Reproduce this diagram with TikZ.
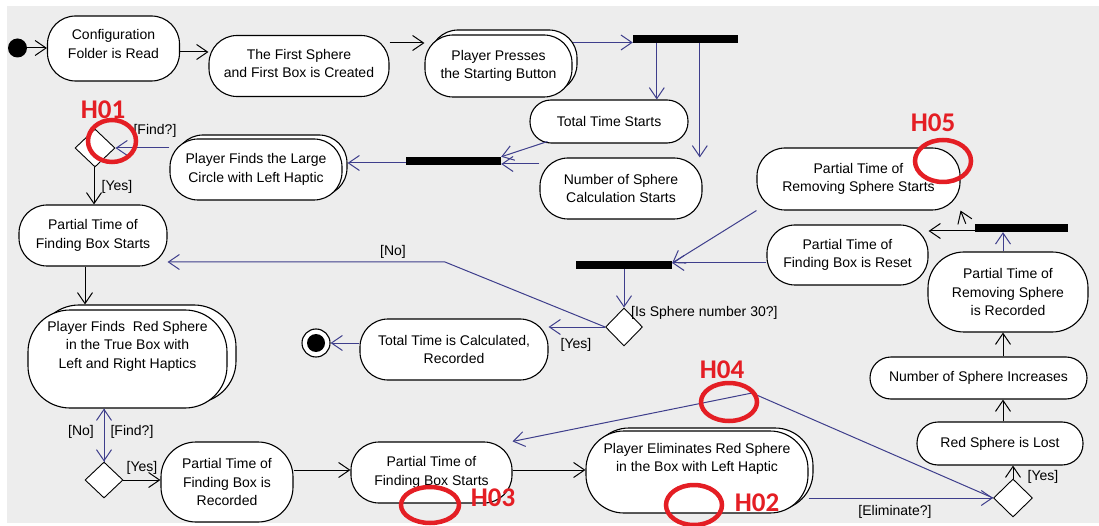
\documentclass[tikz,border=0pt]{standalone}
\usepackage{fontspec}
\setmainfont{Liberation Sans}
\newfontfamily\hfont{Carlito}
\usetikzlibrary{arrows.meta,shapes.geometric,shadows,calc}
\definecolor{navy}{RGB}{62,62,140}
\definecolor{canvasgray}{RGB}{237,237,237}
\definecolor{markred}{RGB}{228,30,36}

\begin{document}
\begin{tikzpicture}[x=1pt,y=-1pt,
  font=\fontsize{14}{18.5}\selectfont,
  act/.style={draw=black, line width=1.1pt, fill=white, align=center, inner sep=2pt},
  multi/.style n args={2}{act, copy shadow={shadow xshift=#1pt, shadow yshift=#2pt}},
  bar/.style={fill=black, draw=none, inner sep=0pt, rectangle},
  dec/.style={diamond, draw=black, fill=white, line width=0.9pt, inner sep=0pt},
  txt/.style={align=center, inner sep=0pt},
  lbl/.style={inner sep=1pt},
  arr/.style={line width=1pt, -{Straight Barb[length=11pt,width=15pt]}},
  flow/.style={arr, black},
  link/.style={arr, navy},
  hring/.style={draw=markred, line width=4.5pt},
  htext/.style={text=markred, inner sep=0pt, font=\hfont\bfseries\fontsize{27}{27}\selectfont}]

% canvas
\useasboundingbox (0,0) rectangle (1099,526);
\fill[white] (0,0) rectangle (1099,526);
\fill[canvasgray] (7,6) rectangle (1099,523);

% ---------- activity nodes ----------
\node[circle, fill=black, minimum size=19, inner sep=0pt] (init) at (17.5,48) {};
\node[act, minimum width=132, minimum height=65, rounded corners=28] (cfg) at (113.5,48.5) {};
\node[txt] (cfgtxt) at (113.5,44) {Configuration\\Folder is Read};
\node[act, minimum width=180, minimum height=61, rounded corners=28] (first) at (299,66) {};
\node[txt] (firsttxt) at (299,63.5) {The First Sphere\\and First Box is Created};
\node[multi={5}{5}, minimum width=147, minimum height=62, rounded corners=28] (press) at (498.5,66) {Player Presses\\the Starting Button};
\node[bar, minimum width=105, minimum height=8] (fork1) at (685.5,39) {};
\node[act, minimum width=158, minimum height=43, rounded corners=21] (total) at (609,121.5) {Total Time Starts};
\node[act, minimum width=162, minimum height=61, rounded corners=28] (numcalc) at (621,188.5) {Number of Sphere\\Calculation Starts};
\node[bar, minimum width=95, minimum height=8] (join1) at (453.5,161) {};
\node[multi={5}{4}, minimum width=172, minimum height=61, rounded corners=28] (large) at (256,169.5) {Player Finds the Large\\Circle with Left Haptic};
\node[dec, minimum width=40, minimum height=38] (d1) at (95,148) {};
\node[act, minimum width=148, minimum height=61, rounded corners=28] (ptfb1) at (93,235.5) {Partial Time of\\Finding Box Starts};
\node[multi={9}{5}, minimum width=199, minimum height=98, rounded corners=42] (redfind) at (127.5,359) {};
\node[txt] (redfindtxt) at (127.5,346) {Player Finds~ Red Sphere\\in the True Box with\\Left and Right Haptics};
\node[dec, minimum width=38, minimum height=36] (d2) at (104,480) {};
\node[act, minimum width=132, minimum height=80, rounded corners=35] (ptfbrec) at (227,482) {Partial Time of\\Finding Box is\\Recorded};
\node[act, minimum width=161, minimum height=61, rounded corners=28] (ptfb2) at (431.5,472.5) {Partial Time of\\Finding Box Starts};
\node[multi={5}{3}, minimum width=222, minimum height=82, rounded corners=38] (elim) at (697,472) {};
\node[txt] (elimtxt) at (697,459) {Player Eliminates Red Sphere\\in the Box with Left Haptic};
\node[dec, minimum width=39, minimum height=38] (d4) at (1013,498) {};
\node[act, minimum width=166, minimum height=43, rounded corners=21] (lost) at (1000,443.5) {Red Sphere is Lost};
\node[act, minimum width=217, minimum height=42, rounded corners=21] (numinc) at (978.5,378) {Number of Sphere Increases};
\node[act, minimum width=160, minimum height=80, rounded corners=36] (remrec) at (1008,292) {Partial Time of\\Removing Sphere\\is Recorded};
\node[bar, minimum width=93, minimum height=8] (join3) at (1021.5,228) {};
\node[act, minimum width=203, minimum height=62, rounded corners=28] (remstart) at (858.5,179) {Partial Time of\\Removing Sphere Starts};
\node[act, minimum width=161, minimum height=60, rounded corners=28] (reset) at (847.5,255) {Partial Time of\\Finding Box is Reset};
\node[bar, minimum width=96, minimum height=8] (join2) at (624,265) {};
\node[dec, minimum width=37, minimum height=38] (d3) at (624,327) {};
\node[act, minimum width=188, minimum height=61, rounded corners=28] (totcalc) at (454,349.5) {Total Time is Calculated,\\Recorded};
\node[circle, draw=black, fill=white, line width=1.1pt, minimum size=28, inner sep=0pt] (final) at (316,343) {};
\fill[black] (final.center) circle [radius=9];

% ---------- connectors ----------
\draw[flow] (init.east) -- (cfg.west |- init.east);
\draw[flow] ([yshift=-3.5pt]cfg.east) coordinate (c) -- (c -| first.west);
\draw[flow] ([yshift=23pt]first.east) coordinate (c) -- (c -| press.west);
\draw[link] ([yshift=23.5pt]press.east) coordinate (c) -- (c -| fork1.west);
\draw[link] ([xshift=24pt]fork1.south west) coordinate (c) -- (c |- total.north);
\draw[link] ([xshift=67pt]fork1.south west) coordinate (c) -- (c |- numcalc.north);
\draw[link] ([shift={(18pt,2pt)}]total.south west) -- (join1.north east);
\draw[link] ([yshift=24.5pt]numcalc.west) coordinate (c) -- (c -| join1.east);
\draw[link] ([yshift=-2pt]join1.west) coordinate (c) -- ($(c -| large.east)+(5,0)$);
\draw[link] (large.west |- d1) -- (d1.east);
\draw[flow] ([xshift=-1pt]d1.south) coordinate (c) -- (c |- ptfb1.north);
\draw[flow] ([xshift=-8pt]ptfb1.south) coordinate (c) -- ($(c |- redfind.north)+(0,-5)$);
\draw[link] (d2.north |- redfind.south) -- (d2.north);
\draw[link] (d2.north) -- (d2.north |- redfind.south);
\draw[flow] (d2.east) -- (d2.east -| ptfbrec.west);
\draw[flow] ([yshift=12pt]ptfbrec.east) coordinate (c) -- (c -| ptfb2.west);
\draw[flow] ([yshift=2.5pt]ptfb2.east) coordinate (c) -- (c -| elim.west);
\draw[link] ([yshift=-26pt]elim.east) coordinate (c) -- (d4.west);
\draw[flow] (d4.north) -- (d4.north |- lost.south);
\draw[flow] ([xshift=3pt]lost.north) coordinate (c) -- (c |- numinc.south);
\draw[flow] ([xshift=24.5pt]numinc.north) coordinate (c) -- (c |- remrec.south);
\draw[link] ([xshift=-5pt]remrec.north) coordinate (c) -- (c |- join3.south);
\draw[flow] ([yshift=-3pt]join3.west) coordinate (c) -- (c -| reset.east);
\draw[flow] ([xshift=-9pt]join3.north west) -- (remstart.south east);
\coordinate (j2in) at ([yshift=2pt]join2.east);
\draw[link] (remstart.south west) -- (j2in);
\draw[link] (reset.west |- j2in) -- (j2in);
\draw[link] (join2.south) -- (d3.north);
\coordinate (nobend) at (445,262);
\draw[link] (d3.west) -- (nobend) -- (nobend -| ptfb1.east);
\draw[link] (d3.west) -- (d3.west -| totcalc.east);
\draw[link] (totcalc.west |- final) -- (final.east);
\coordinate (elimbend) at (752,393);
\draw[link] (d4.west) -- (elimbend) -- (ptfb2.north east);

% ---------- guard labels ----------
\node[lbl] (gfind1) at (155,131) {[Find?]};
\node[lbl] (gyes1) at (117,187) {[Yes]};
\node[lbl] (gno2) at (81,432) {[No]};
\node[lbl] (gfind2) at (132,432) {[Find?]};
\node[lbl] (gyes2) at (142,468) {[Yes]};
\node[lbl] (gno3) at (393,252) {[No]};
\node[lbl] (gyes3) at (576,345) {[Yes]};
\node[lbl, anchor=west] (gsphere) at (630,313) {[Is Sphere number 30?]};
\node[lbl] (gelim) at (895,512) {[Eliminate?]};
\node[lbl] (gyes4) at (1043,477) {[Yes]};

% ---------- highlighted spots ----------
\draw[hring] (112,141) ellipse [x radius=24, y radius=21];
\draw[hring] (943,161) ellipse [x radius=28, y radius=21];
\draw[hring] (729,402) ellipse [x radius=28, y radius=19];
\draw[hring] (430,505) ellipse [x radius=29, y radius=18];
\draw[hring] (694,505) ellipse [x radius=28, y radius=20];
\node[htext] (h01) at (103,110) {H01};
\node[htext] (h05) at (933,123) {H05};
\node[htext] (h04) at (722,370) {H04};
\node[htext] (h03) at (493,498) {H03};
\node[htext] (h02) at (757,503) {H02};
\end{tikzpicture}
\end{document}
